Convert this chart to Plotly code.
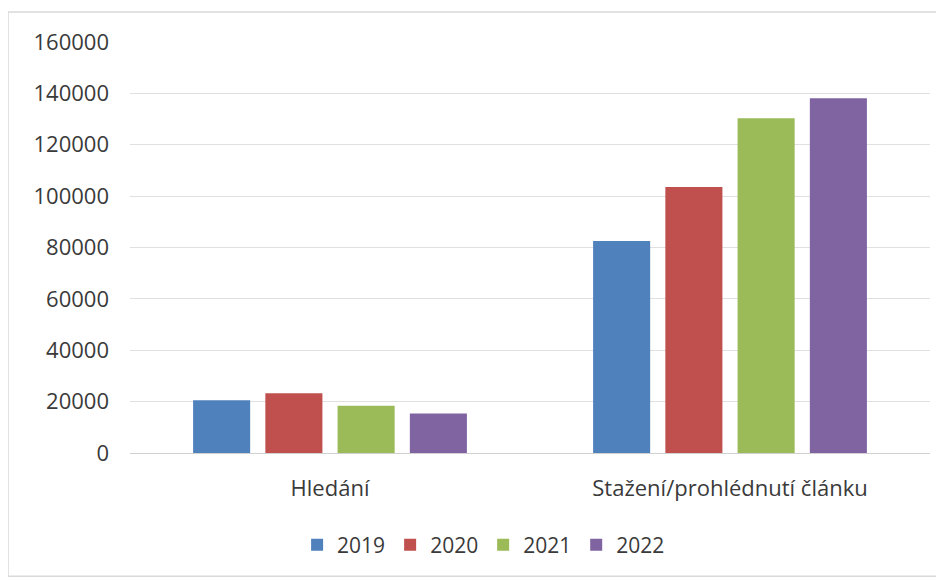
import plotly.graph_objects as go

categories = ["Hledání", "Stažení/prohlédnutí článku"]
years = ["2019", "2020", "2021", "2022"]
values_2019 = [20500, 82500]
values_2020 = [23300, 103600]
values_2021 = [18400, 130300]
values_2022 = [15400, 138100]
series = [values_2019, values_2020, values_2021, values_2022]
colors = ["#4F81BD", "#C0504D", "#9BBB59", "#8064A2"]
y_ticks = [0, 20000, 40000, 60000, 80000, 100000, 120000, 140000, 160000]

fig = go.Figure()
for name, vals, col in zip(years, series, colors):
    fig.add_trace(go.Bar(x=categories, y=vals, name=name, marker_color=col,
                         marker_line_width=0))

fig.update_layout(
    width=936, height=572,
    margin=dict(l=122, r=14, t=34, b=127),
    paper_bgcolor="white", plot_bgcolor="white",
    barmode="group", bargap=0.2775, bargroupgap=0.21,
    font=dict(family="Open Sans, sans-serif", size=21, color="#3a3a3a"),
    showlegend=True,
    legend=dict(orientation="h", x=0.442, y=-0.224, xanchor="center", yanchor="middle",
                font=dict(size=21, color="#3a3a3a"), itemwidth=30, traceorder="normal"),
    xaxis=dict(showgrid=False, showline=False, ticks="", tickfont=dict(size=22),
               ticklabelstandoff=20),
    yaxis=dict(range=[0, 160000], tickvals=y_ticks, ticktext=[str(v) for v in y_ticks],
               gridcolor="#E0E0E0", gridwidth=1, zeroline=True, zerolinecolor="#D0D0D0",
               zerolinewidth=1, showline=False, ticks="", tickfont=dict(size=22),
               ticklabelstandoff=20),
    shapes=[dict(type="rect", xref="paper", yref="paper", x0=-0.1525, x1=1.0125,
                 y0=-0.30, y1=1.073, line=dict(color="#D9D9D9", width=1.5),
                 fillcolor="rgba(0,0,0,0)", layer="below")],
)

fig.write_html("out.html")
